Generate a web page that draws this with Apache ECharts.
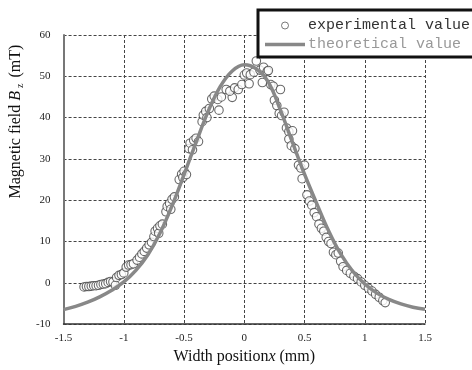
<!DOCTYPE html>
<html>
<head>
<meta charset="utf-8">
<script src="https://cdn.jsdelivr.net/npm/echarts@6/dist/echarts.min.js"></script>
<style>html,body{margin:0;padding:0;background:#fff}#c{width:472px;height:370px}</style>
</head>
<body>
<div id="c"></div>
<script>
// Experimental points [x (mm), Bz (mT)]
var expX = [-1.33,-1.31,-1.29,-1.27,-1.25,-1.23,-1.21,-1.19,-1.17,-1.15,-1.13,-1.11,-1.09,-1.07,-1.06,-1.04,-1.02,-1.0,
  -0.98,-0.96,-0.94,-0.92,-0.89,-0.87,-0.85,-0.83,-0.81,-0.79,-0.77,
  -0.75,-0.74,-0.72,-0.71,-0.70,-0.68,
  -0.65,-0.64,-0.62,-0.61,-0.60,-0.58,
  -0.54,-0.52,-0.51,-0.50,-0.48,
  -0.46,-0.45,-0.43,-0.42,-0.40,-0.38,
  -0.35,-0.34,-0.32,-0.31,-0.29,-0.21,
  -0.27,-0.25,-0.22,-0.19,-0.10,
  -0.15,-0.12,-0.08,-0.05,-0.02,0.04,
  0.00,0.02,0.05,0.08,0.10,0.13,0.16,0.19,0.20,
  0.15,0.22,0.24,0.30,
  0.25,0.27,0.29,0.31,0.33,
  0.35,0.37,0.40,0.37,0.39,0.42,
  0.45,0.47,0.50,0.48,
  0.52,0.54,0.56,0.58,0.60,
  0.62,0.64,0.66,0.68,0.70,0.72,
  0.74,0.76,0.78,0.80,
  0.82,0.85,0.88,0.91,0.94,0.97,1.00,1.03,1.06,1.09,1.12,1.15,1.17];
var expY = [-1.0,-0.9,-0.9,-0.8,-0.7,-0.7,-0.6,-0.4,-0.3,-0.2,0.1,0.3,0.2,-0.6,1.3,1.8,2.0,2.4,
  3.8,4.3,4.4,4.6,5.5,6.2,7.0,7.6,8.4,9.2,9.8,
  11.2,12.5,13.2,12.0,13.8,14.2,
  17.2,18.5,19.2,17.8,20.2,20.8,
  25.0,26.3,25.5,27.0,26.2,
  32.5,33.8,32.2,34.5,35.0,34.2,
  39.0,40.6,41.5,40.0,42.2,41.8,
  44.5,45.2,44.4,45.0,44.9,
  46.8,46.4,47.2,46.8,48.0,48.2,
  50.3,50.8,50.4,51.0,53.7,51.5,52.2,51.2,51.4,
  48.5,48.0,47.6,46.8,
  44.2,42.9,41.0,40.5,41.3,
  37.5,36.6,36.8,34.8,33.2,32.5,
  28.5,27.8,28.5,25.2,
  21.3,19.8,18.8,17.0,16.0,
  14.2,13.2,12.5,11.0,10.0,9.5,
  7.4,6.8,7.2,5.2,
  3.9,3.0,2.3,1.6,1.0,0.2,-0.6,-1.3,-2.0,-2.8,-3.5,-4.3,-4.8];
// Theoretical curve
var theoX = [-1.5,-1.4,-1.3,-1.2,-1.1,-1.0,-0.9,-0.8,-0.7,-0.6,-0.5,-0.4,-0.3,-0.2,-0.1,0,0.1,0.2,0.3,0.4,0.5,0.6,0.7,0.8,0.9,1.0,1.1,1.2,1.3,1.4,1.5];
var theoY = [-6.5,-5.7,-4.7,-3.4,-1.8,0.2,3.0,6.8,12.0,18.6,26.2,34.0,41.5,47.5,51.3,52.8,51.8,48.6,41.8,34.0,26.3,19.3,12.6,7.0,2.8,-0.3,-2.5,-4.0,-5.1,-5.9,-6.4];
var seriesNames = ['experimental value', 'theoretical value'];

var expData = expX.map(function (x, i) { return [x, expY[i]]; });
var theoData = theoX.map(function (x, i) { return [x, theoY[i]]; });

var chart = echarts.init(document.getElementById('c'), null, {renderer: 'canvas'});
var serif = '"Liberation Serif", "Times New Roman", serif';
chart.setOption({
  animation: false,
  backgroundColor: '#fff',
  grid: {left: 62, right: 47, top: 35, bottom: 38, containLabel: false},
  legend: {
    orient: 'vertical',
    left: 258, top: 10,
    padding: [8, 10, 5, 7],
    itemWidth: 40, itemHeight: 7, itemGap: 4,
    backgroundColor: '#fff',
    borderColor: '#111', borderWidth: 3, borderRadius: 0,
    textStyle: {fontFamily: '"Liberation Mono", monospace', fontSize: 15, padding: [0, 0, 0, -2]},
    data: [
      {name: seriesNames[0], itemStyle: {borderWidth: 0.9}, textStyle: {color: '#333'}},
      {name: seriesNames[1], icon: 'path://M0,0 H40 V3.5 H0 Z', itemStyle: {color: '#888'}, textStyle: {color: '#999'}}
    ]
  },
  xAxis: {
    type: 'value', min: -1.5, max: 1.5, interval: 0.5,
    name: '{t|Width position}{i|x}{t| (mm)}',
    nameLocation: 'middle', nameGap: 20,
    nameTextStyle: {rich: {
      t: {fontFamily: serif, fontSize: 16, color: '#111'},
      i: {fontFamily: serif, fontSize: 16, fontStyle: 'italic', color: '#111'}
    }},
    axisLine: {show: true, onZero: false, lineStyle: {color: '#333', width: 1.5}},
    axisTick: {show: false},
    axisLabel: {fontFamily: serif, fontSize: 11, color: '#222', margin: 9},
    splitLine: {show: true, lineStyle: {color: '#444', type: [3, 2], width: 1}}
  },
  yAxis: {
    type: 'value', min: -10, max: 60, interval: 10,
    name: '{t|Magnetic field }{i|B}{s|z}{t| (mT)}',
    nameLocation: 'middle', nameGap: 30, nameRotate: 90,
    nameTextStyle: {padding: [0, 0, 0, 116], rich: {
      t: {fontFamily: serif, fontSize: 16, color: '#111'},
      i: {fontFamily: serif, fontSize: 16, fontStyle: 'italic', color: '#111'},
      s: {fontFamily: serif, fontSize: 10, color: '#111', padding: [8, 2, 0, 3]}
    }},
    axisLine: {show: true, onZero: false, lineStyle: {color: '#777', width: 2}},
    axisTick: {show: false},
    axisLabel: {fontFamily: serif, fontSize: 11, color: '#222', margin: 13},
    splitLine: {show: true, lineStyle: {color: '#444', type: [3, 2], width: 1}}
  },
  series: [
    {
      name: seriesNames[0], type: 'scatter', data: expData,
      symbol: 'circle', symbolSize: 8.5, z: 2,
      itemStyle: {color: '#fff', borderColor: '#444', borderWidth: 1.1}
    },
    {
      name: seriesNames[1], type: 'line', data: theoData, smooth: 0.4,
      symbol: 'none', z: 3,
      lineStyle: {color: '#888', width: 3.5},
      itemStyle: {color: '#888'}
    }
  ]
});
</script>
</body>
</html>
